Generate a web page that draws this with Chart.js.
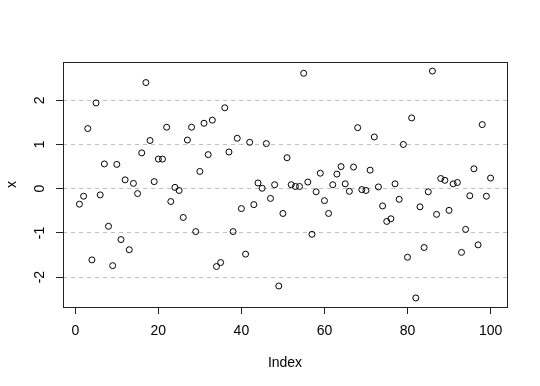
<!DOCTYPE html>
<html>
<head>
<meta charset="utf-8">
<script src="https://cdn.jsdelivr.net/npm/chart.js@4"></script>
<style>
  html, body { margin: 0; padding: 0; background: #fff; }
</style>
</head>
<body>
<canvas id="myChart" width="540" height="386"></canvas>
<script>
// values of x, in index order 1..100
let values = [
  -0.35, -0.17, 1.36, -1.61, 1.94, -0.14, 0.56, -0.85, -1.74, 0.55,
  -1.15, 0.20, -1.38, 0.12, -0.11, 0.81, 2.40, 1.09, 0.16, 0.67,
  0.67, 1.39, -0.29, 0.03, -0.04, -0.65, 1.10, 1.39, -0.97, 0.39,
  1.48, 0.77, 1.55, -1.76, -1.67, 1.83, 0.83, -0.97, 1.14, -0.45,
  -1.48, 1.05, -0.36, 0.13, 0.01, 1.02, -0.22, 0.09, -2.20, -0.56,
  0.70, 0.09, 0.05, 0.05, 2.61, 0.15, -1.03, -0.07, 0.35, -0.27,
  -0.56, 0.09, 0.33, 0.50, 0.11, -0.06, 0.49, 1.38, -0.02, -0.04,
  0.42, 1.17, 0.04, -0.39, -0.74, -0.68, 0.11, -0.24, 1.00, -1.55,
  1.60, -2.47, -0.41, -1.33, -0.07, 2.66, -0.58, 0.23, 0.19, -0.49,
  0.11, 0.14, -1.44, -0.92, -0.16, 0.45, -1.27, 1.45, -0.17, 0.24
];
let xTicks = [0, 20, 40, 60, 80, 100];
let yTicks = [-2, -1, 0, 1, 2];
let xTitle = "Index";
let yTitle = "x";

const FONT = "14px 'Liberation Sans', Arial, sans-serif";

// R style frame, tick labels and axis titles
const rAxes = {
  id: "rAxes",
  afterDraw(c) {
    const ctx = c.ctx;
    const a = c.chartArea;
    const xs = c.scales.x;
    const ys = c.scales.y;
    ctx.save();
    ctx.strokeStyle = "#222";
    ctx.lineWidth = 1;
    ctx.setLineDash([]);
    ctx.strokeRect(Math.round(a.left) + 0.5, Math.round(a.top) + 0.5,
      Math.round(a.right - a.left), Math.round(a.bottom - a.top));

    ctx.fillStyle = "#000";
    ctx.font = FONT;
    ctx.textAlign = "center";
    ctx.textBaseline = "middle";
    for (let v of xTicks) {
      ctx.fillText(String(v), xs.getPixelForValue(v), a.bottom + 24);
    }
    ctx.fillText(xTitle, (a.left + a.right) / 2, a.bottom + 56);

    for (let v of yTicks) {
      ctx.save();
      ctx.translate(a.left - 23, ys.getPixelForValue(v));
      ctx.rotate(-Math.PI / 2);
      ctx.fillText(String(v), 0, 0);
      ctx.restore();
    }
    ctx.save();
    ctx.translate(12, (a.top + a.bottom) / 2);
    ctx.rotate(-Math.PI / 2);
    ctx.fillText(yTitle, 0, 0);
    ctx.restore();
    ctx.restore();
  }
};

let config = {
  type: "scatter",
  data: {
    datasets: [
      {
        label: yTitle,
        data: values.map((v, i) => ({ x: i + 1, y: v })),
        pointStyle: "circle",
        pointRadius: 3,
        pointBorderWidth: 1,
        borderColor: "#000",
        backgroundColor: "rgba(0,0,0,0)",
        showLine: false,
      },
    ],
  },
  options: {
    responsive: false,
    animation: false,
    devicePixelRatio: 1,
    layout: { padding: { left: 0, top: 62, right: 33, bottom: 0 } },
    plugins: {
      legend: { display: false },
      tooltip: { enabled: false },
    },
    scales: {
      x: {
        type: "linear",
        min: -2.96,
        max: 103.96,
        afterBuildTicks: (s) => { s.ticks = xTicks.map((v) => ({ value: v })); },
        afterFit: (s) => { s.height = 79; },
        ticks: { display: false },
        grid: {
          drawOnChartArea: false,
          drawTicks: true,
          tickLength: 7,
          tickColor: "#222",
          tickWidth: 1,
          tickBorderDash: [],
        },
        border: { display: false },
      },
      y: {
        type: "linear",
        min: -2.675,
        max: 2.865,
        afterBuildTicks: (s) => { s.ticks = yTicks.map((v) => ({ value: v })); },
        afterFit: (s) => { s.width = 63; },
        ticks: { display: false },
        grid: {
          color: "#c0c0c0",
          lineWidth: 1,
          drawTicks: true,
          tickLength: 7,
          tickColor: "#222",
          tickWidth: 1,
          tickBorderDash: [],
        },
        border: { display: false, dash: [4, 4] },
      },
    },
  },
  plugins: [rAxes],
};

new Chart(document.getElementById("myChart"), config);
</script>
</body>
</html>
